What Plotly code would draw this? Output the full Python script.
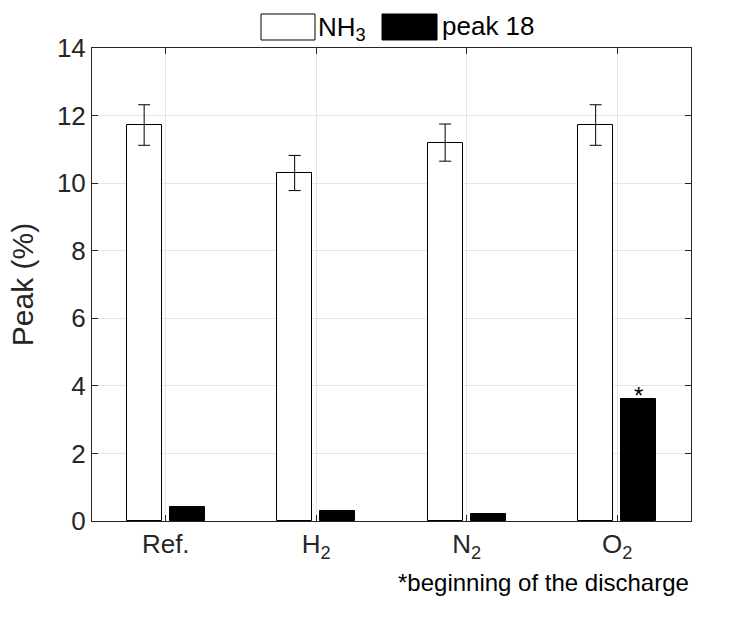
import plotly.graph_objects as go

categories = ["Ref.", "H<sub>2</sub>", "N<sub>2</sub>", "O<sub>2</sub>"]
nh3_values = [11.72, 10.3, 11.2, 11.72]
nh3_errors = [0.6, 0.52, 0.55, 0.6]
peak18_values = [0.4, 0.31, 0.21, 3.6]

x = [1, 2, 3, 4]
FONT = "Liberation Sans, Arial, sans-serif"
AX = "#262626"

# plot-area geometry in pixels (for paper-coordinate placement of legend & notes)
L, R, T, B = 92, 691, 48, 521
PW, PH = R - L, B - T

def px(xp):
    return (xp - L) / PW

def py(yp):
    return (B - yp) / PH

fig = go.Figure()
fig.add_trace(go.Bar(
    x=x, y=nh3_values, width=0.233, offset=-0.26,
    marker=dict(color="white", line=dict(color="black", width=1)),
    error_y=dict(type="data", array=nh3_errors, color="black", thickness=1, width=6),
    name="NH3", showlegend=False,
))
fig.add_trace(go.Bar(
    x=x, y=peak18_values, width=0.233, offset=0.027,
    marker=dict(color="black", line=dict(color="black", width=1)),
    name="peak 18", showlegend=False,
))

# asterisk on O2 peak 18 bar
fig.add_annotation(x=4 + 0.027 + 0.233 / 2, y=peak18_values[3], text="*", showarrow=False,
                   yanchor="top", yshift=19, font=dict(size=24, color="black", family=FONT))

# manual legend (large swatches)
fig.add_shape(type="rect", xref="paper", yref="paper", x0=px(261), x1=px(315),
              y0=py(40), y1=py(14), fillcolor="white", line=dict(color="black", width=1))
fig.add_annotation(xref="paper", yref="paper", x=px(316), y=py(29),
                   text="NH<sub>3</sub>", showarrow=False, xanchor="left", yanchor="middle",
                   font=dict(size=26, color="black", family=FONT))
fig.add_shape(type="rect", xref="paper", yref="paper", x0=px(382), x1=px(437),
              y0=py(40), y1=py(14), fillcolor="black", line=dict(color="black", width=1))
fig.add_annotation(xref="paper", yref="paper", x=px(440), y=py(26),
                   text="peak 18", showarrow=False, xanchor="left", yanchor="middle",
                   font=dict(size=26, color="black", family=FONT))

# footnote
fig.add_annotation(xref="paper", yref="paper", x=1.0, y=py(582),
                   text="*beginning of the discharge", showarrow=False,
                   xanchor="right", yanchor="middle",
                   font=dict(size=24, color="black", family=FONT))

fig.update_layout(
    width=745, height=617,
    margin=dict(l=L, r=745 - R, t=T, b=617 - B),
    paper_bgcolor="white", plot_bgcolor="white",
    font=dict(family=FONT, color="black"),
    bargap=0, showlegend=False,
)
fig.update_xaxes(
    range=[0.51, 4.49], tickvals=x, ticktext=categories,
    showgrid=True, gridcolor="#e6e6e6", gridwidth=1,
    showline=True, linecolor=AX, linewidth=1, mirror="ticks",
    ticks="inside", ticklen=6, tickcolor=AX,
    tickfont=dict(size=26, color="#262626"), zeroline=False,
)
fig.update_yaxes(
    range=[0, 14], tickvals=[0, 2, 4, 6, 8, 10, 12, 14],
    showgrid=True, gridcolor="#e6e6e6", gridwidth=1,
    showline=True, linecolor=AX, linewidth=1, mirror="ticks",
    ticks="inside", ticklen=6, tickcolor=AX,
    tickfont=dict(size=26, color="#262626"), zeroline=False,
    title=dict(text="Peak (%)", font=dict(size=30, color="#262626"), standoff=14),
)

fig.write_html("out.html")
